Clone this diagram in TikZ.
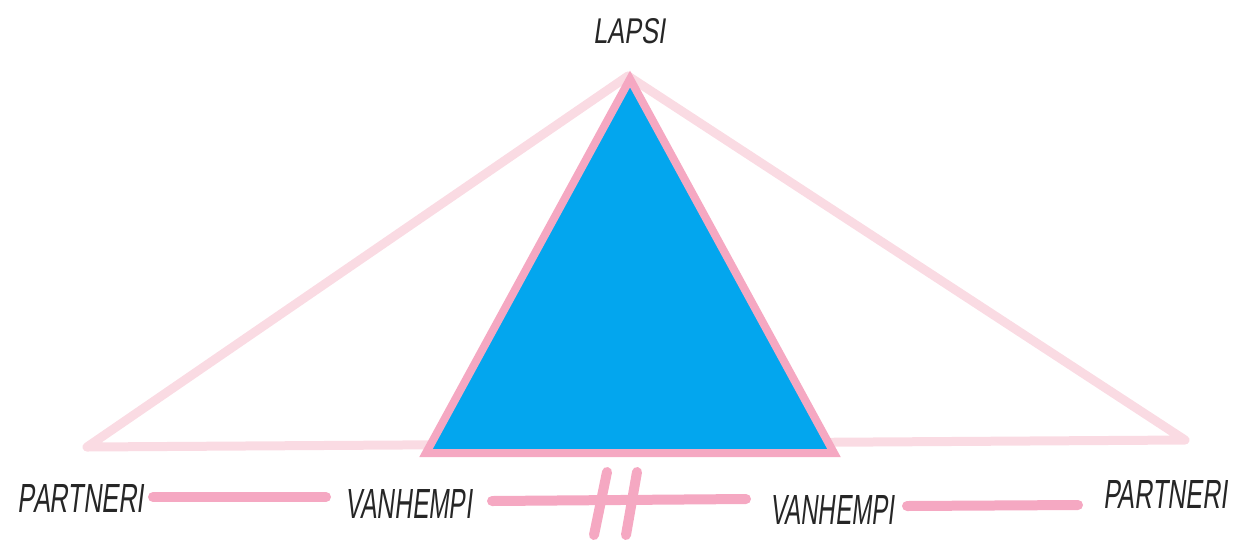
\documentclass[tikz,border=0pt]{standalone}
\usepackage{fontspec}
\setmainfont{Liberation Sans}
\newfontfamily\handfont[FakeSlant=0.2]{Liberation Sans}
\definecolor{palepink}{HTML}{FADBE3}
\definecolor{rosepink}{HTML}{F5A8C2}
\definecolor{skyblue}{HTML}{03A6EE}
\tikzset{
  lbl/.style={inner sep=0pt, text=black!85},
  paleline/.style={draw=palepink, line width=9pt, line cap=round, line join=round},
  rel/.style={draw=rosepink, line width=10pt, line cap=round},
  cut/.style={draw=rosepink, line width=10pt, line cap=round},
}
\newcommand{\hand}[3]{\resizebox{#1pt}{#2pt}{\handfont #3}}
\begin{document}
\begin{tikzpicture}[x=1pt,y=-1pt]
\useasboundingbox (0,0) rectangle (1260,542);
% outer pale triangle
\coordinate (oa) at (628,76);
\coordinate (ol) at (87,447);
\coordinate (or) at (1185,440);
\draw[paleline] (ol) -- (oa) -- (or) -- cycle;
% inner blue triangle
\coordinate (ia) at (630,79);
\coordinate (il) at (426,453);
\coordinate (ir) at (834,453);
\draw[draw=rosepink, fill=skyblue, line width=8pt, line join=miter] (il) -- (ia) -- (ir) -- cycle;
% labels
\node[lbl] (lapsi) at (629,31) {\hand{72}{25}{LAPSI}};
\node[lbl] (p1) at (81,498) {\hand{126}{28}{PARTNERI}};
\node[lbl] (v1) at (409,504) {\hand{126}{29}{VANHEMPI}};
\node[lbl] (v2) at (832,510) {\hand{124}{29}{VANHEMPI}};
\node[lbl] (p2) at (1165,494) {\hand{124}{28}{PARTNERI}};
% relation lines
\coordinate (l1a) at (153,497);
\coordinate (l1b) at (326,497);
\coordinate (l2a) at (492,501);
\coordinate (l2b) at (746,499);
\coordinate (l3a) at (907,506);
\coordinate (l3b) at (1078,505);
\draw[rel] (l1a) -- (l1b);
\draw[rel] (l2a) -- (l2b);
\draw[rel] (l3a) -- (l3b);
% break marks
\coordinate (s1a) at (607,472);
\coordinate (s1b) at (594,535);
\coordinate (s2a) at (637,472);
\coordinate (s2b) at (626,535);
\draw[cut] (s1a) -- (s1b);
\draw[cut] (s2a) -- (s2b);
\end{tikzpicture}
\end{document}
